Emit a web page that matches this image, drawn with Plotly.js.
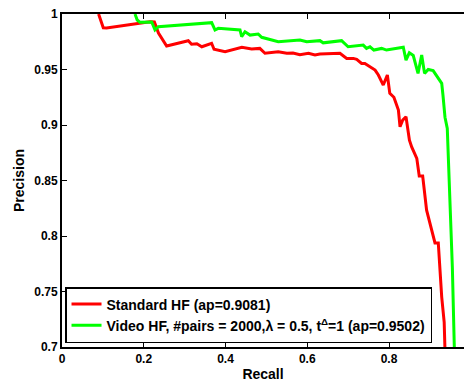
<!DOCTYPE html>
<html>
<head>
<meta charset="utf-8">
<script src="https://cdn.plot.ly/plotly-3.0.1.min.js"></script>
<style>
  html, body { margin: 0; padding: 0; background: #fff; }
  #chart { width: 464px; height: 383px; }
</style>
</head>
<body>
<div id="chart"></div>
<script>
// Precision-recall curves for the two hashing variants
const standardName = "Standard HF (ap=0.9081)";
const standardRecall = [
  0.0895, 0.101, 0.109, 0.215, 0.226, 0.236, 0.256, 0.309, 0.317, 0.330,
  0.342, 0.366, 0.372, 0.399, 0.440, 0.464, 0.484, 0.4966, 0.529, 0.550,
  0.565, 0.582, 0.603, 0.619, 0.631, 0.680, 0.6965, 0.7127, 0.721, 0.733,
  0.741, 0.766, 0.774, 0.786, 0.796, 0.802, 0.812, 0.823, 0.827, 0.8335,
  0.8416, 0.850, 0.8555, 0.868, 0.874, 0.8824, 0.892, 0.9045, 0.9125, 0.9206,
  0.929, 0.935, 0.937
];
const standardPrecision = [
  1.0, 0.9876, 0.9874, 0.9931, 0.9928, 0.9829, 0.9711, 0.9759, 0.9727, 0.9732,
  0.9705, 0.9736, 0.9682, 0.966, 0.970, 0.9684, 0.969, 0.9646, 0.966, 0.9646,
  0.9648, 0.9633, 0.9646, 0.963, 0.9639, 0.9646, 0.960, 0.960, 0.9592, 0.9555,
  0.9555, 0.9495, 0.945, 0.936, 0.945, 0.9285, 0.925, 0.9134, 0.8984, 0.9044,
  0.9074, 0.8864, 0.8803, 0.870, 0.854, 0.854, 0.8233, 0.8052, 0.7938, 0.7938,
  0.745, 0.7225, 0.697
];

const videoName = "Video HF, #pairs = 2000,\u03bb = 0.5, t<sup>\u0394</sup>=1 (ap=0.9502)";
const videoRecall = [
  0.1786, 0.184, 0.191, 0.2195, 0.2275, 0.2356, 0.3662, 0.3743, 0.3824, 0.4274,
  0.4355, 0.4396, 0.4477, 0.460, 0.480, 0.4886, 0.5008, 0.529, 0.582, 0.5987,
  0.631, 0.639, 0.684, 0.700, 0.737, 0.745, 0.7535, 0.763, 0.782, 0.794,
  0.835, 0.8416, 0.8497, 0.8594, 0.871, 0.880, 0.887, 0.896, 0.908, 0.9206,
  0.929, 0.932, 0.937, 0.9426, 0.949, 0.955, 0.960
];
const videoPrecision = [
  1.0, 0.9946, 0.9925, 0.9928, 0.9856, 0.9885, 0.9922, 0.9856, 0.9871, 0.9856,
  0.9856, 0.9795, 0.984, 0.981, 0.982, 0.979, 0.978, 0.975, 0.9766, 0.975,
  0.976, 0.974, 0.976, 0.9705, 0.972, 0.969, 0.9705, 0.9675, 0.969, 0.9675,
  0.970, 0.9585, 0.965, 0.9626, 0.9465, 0.963, 0.9465, 0.950, 0.949, 0.942,
  0.9375, 0.927, 0.907, 0.897, 0.832, 0.772, 0.697
];

const xTickVals = [0, 0.2, 0.4, 0.6, 0.8];
const yTickVals = [0.7, 0.75, 0.8, 0.85, 0.9, 0.95, 1];

const fontFamily = "'Liberation Sans', Arial, Helvetica, sans-serif";

const traces = [
  {
    x: standardRecall, y: standardPrecision, name: standardName,
    type: "scatter", mode: "lines",
    line: { color: "#ff0000", width: 3 }
  },
  {
    x: videoRecall, y: videoPrecision, name: videoName,
    type: "scatter", mode: "lines",
    line: { color: "#00ff00", width: 3 }
  }
];

const layout = {
  width: 464, height: 383,
  margin: { l: 62, r: 0, t: 14, b: 36, pad: 0 },
  paper_bgcolor: "#ffffff", plot_bgcolor: "#ffffff",
  font: { family: fontFamily, color: "#000", size: 12, weight: "bold" },
  showlegend: true,
  legend: {
    x: 0.0075, y: 0.012, xanchor: "left", yanchor: "bottom",
    bgcolor: "#ffffff", bordercolor: "#000000", borderwidth: 1.5,
    font: { family: fontFamily, size: 14, color: "#000", weight: "bold" },
    itemwidth: 30, tracegroupgap: 0
  },
  xaxis: {
    range: [0, 0.9835], autorange: false,
    tickvals: xTickVals, ticktext: xTickVals.map(String),
    ticks: "inside", ticklen: 5, tickwidth: 1, tickcolor: "#000",
    showline: true, linecolor: "#000", linewidth: 2, mirror: "ticks",
    showgrid: false, zeroline: false,
    tickfont: { family: fontFamily, size: 12, color: "#000", weight: "bold" },
    title: { text: "Recall", standoff: 4,
             font: { family: fontFamily, size: 14, color: "#000", weight: "bold" } }
  },
  yaxis: {
    range: [0.7, 1], autorange: false,
    tickvals: yTickVals, ticktext: yTickVals.map(String),
    ticks: "inside", ticklen: 5, tickwidth: 1, tickcolor: "#000",
    showline: true, linecolor: "#000", linewidth: 2, mirror: false,
    showgrid: false, zeroline: false,
    tickfont: { family: fontFamily, size: 12, color: "#000", weight: "bold" },
    title: { text: "Precision", standoff: 6,
             font: { family: fontFamily, size: 14, color: "#000", weight: "bold" } }
  }
};

Plotly.newPlot("chart", traces, layout, { displayModeBar: false, staticPlot: true });
</script>
</body>
</html>
